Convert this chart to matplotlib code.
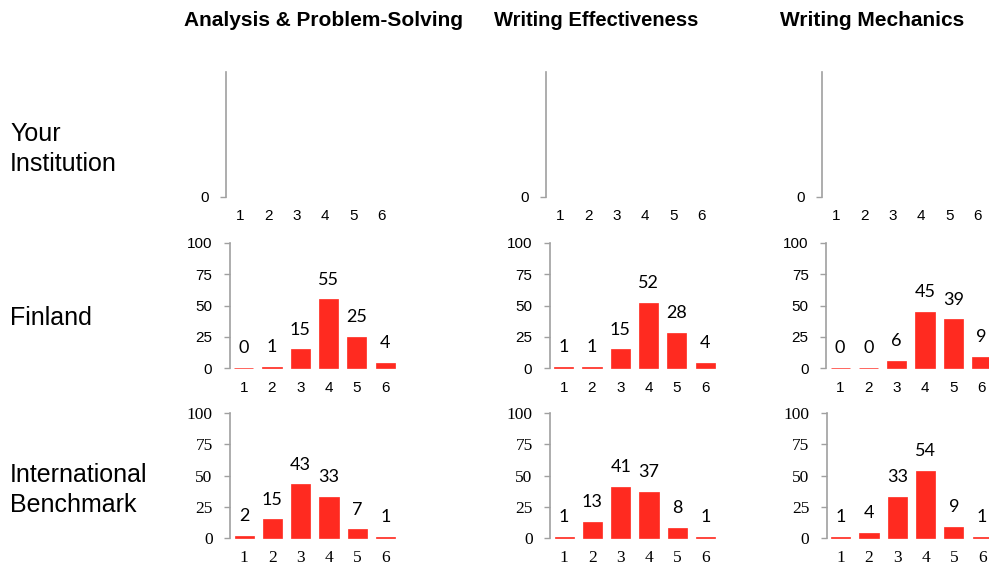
import matplotlib.pyplot as plt

# Distribución de puntuaciones (1-6) por dimensión y grupo

scores = [1, 2, 3, 4, 5, 6]
columns = ['Analysis & Problem-Solving', 'Writing Effectiveness', 'Writing Mechanics']
rows = ['Your\nInstitution', 'Finland', 'International\nBenchmark']

finland = [
    [0.4, 1, 15, 55, 25, 4],
    [1, 1, 15, 52, 28, 4],
    [0.4, 0.3, 6, 45, 39, 9],
]
international = [
    [2, 15, 43, 33, 7, 1],
    [1, 13, 41, 37, 8, 1],
    [1, 4, 33, 54, 9, 1],
]

W, H = 989, 570
red = '#FF2A20'
gray = '#A0A0A0'

# posiciones en pixeles: borde izquierdo del eje (por fila y columna) y linea del 0
left_px = [[226, 546, 822], [229.5, 549.5, 826], [230, 550, 826.5]]
zero_px = [197, 368, 538]
unit_px = 28.3

f = plt.figure(figsize=(W / 100, H / 100), dpi=100)

for r in range(3):
    for c in range(3):
        x0 = left_px[r][c]
        ax = f.add_axes([x0 / W, 1 - zero_px[r] / H, 6 * unit_px / W, 125 / H])
        ax.set_xlim(0.5, 6.5)
        ax.set_ylim(0, 100)
        for s in ['top', 'right', 'bottom']:
            ax.spines[s].set_visible(False)
        ax.spines['left'].set_color(gray)
        ax.spines['left'].set_linewidth(1.2)
        ax.set_xticks(scores)
        ax.tick_params(axis='x', length=0, pad=9)
        ax.tick_params(axis='y', length=4.5, width=1, color=gray, pad=8)

        if r == 2:
            tfont = 'Liberation Serif'
            tsize = 12.5
        else:
            tfont = 'Liberation Sans'
            tsize = 11

        if r == 0:
            ax.set_yticks([0])
        else:
            ax.set_yticks([0, 25, 50, 75, 100])
            vals = finland[c] if r == 1 else international[c]
            ax.bar(scores, vals, width=0.68, color=red, edgecolor=red, linewidth=0.5,
                   clip_on=False)
            for x, v in zip(scores, vals):
                ax.annotate(f'{v:.0f}', (x, v), xytext=(0, 10.5), textcoords='offset points',
                            ha='center', va='baseline', fontsize=13, family='Lato',
                            annotation_clip=False)

        for lab in ax.get_xticklabels() + ax.get_yticklabels():
            lab.set_family(tfont)
            lab.set_fontsize(tsize)

# títulos de columna
title_x = [324, 596, 872]
title_size = [15, 14.5, 15]
for c in range(3):
    f.text(title_x[c] / W, 1 - 21 / H, columns[c], ha='center', va='center',
           fontsize=title_size[c], fontweight='bold', family='Liberation Sans')

# etiquetas de fila
row_y = [149, 318, 490]
for r in range(3):
    f.text(10 / W, 1 - row_y[r] / H, rows[r], ha='left', va='center',
           fontsize=18, family='Liberation Sans', linespacing=1.32)

plt.savefig('out.png', dpi=100)
